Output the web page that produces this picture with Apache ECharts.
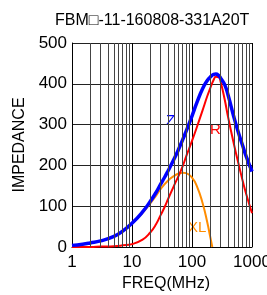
<!DOCTYPE html>
<html>
<head>
<meta charset="utf-8">
<script src="https://cdn.jsdelivr.net/npm/echarts@6/dist/echarts.min.js"></script>
<style>
  html, body { margin: 0; padding: 0; background: #fff; }
  #chart { width: 267px; height: 295px; }
</style>
</head>
<body>
<div id="chart"></div>
<script>
// impedance curves (MHz / ohm)
var freq = [1, 1.5, 2, 3, 5, 7, 10, 15, 20, 25, 30, 35, 40, 50, 60, 70, 80, 90, 100, 120, 150, 180, 200, 230, 250, 280, 300, 350, 400, 500, 600, 700, 800, 1000]
var zVals = [4, 7, 10, 15, 26, 39, 58, 86, 111, 133, 154, 171, 187, 215, 240, 263, 284, 303, 321, 353, 388, 408, 416, 423, 424, 420, 414, 398, 372, 318, 278, 248, 222, 185]
var rVals = [0, 0, 0, 1, 2, 4, 7, 18, 35, 55, 78, 98, 118, 150, 175, 198, 222, 242, 260, 293, 335, 370, 388, 410, 417, 416, 405, 362, 318, 252, 202, 162, 130, 83]
var xlFreq = [1, 1.5, 2, 3, 5, 7, 10, 15, 20, 25, 30, 40, 50, 60, 70, 80, 100, 120, 150, 180, 200, 218]
var xlVals = [4, 7, 10, 15, 26, 39, 58, 84, 106, 125, 142, 163, 174, 180, 182, 181, 170, 150, 108, 60, 27, 0]
var minorFreq = [2, 3, 4, 5, 6, 7, 8, 9, 20, 30, 40, 50, 60, 70, 80, 90, 200, 300, 400, 500, 600, 700, 800, 900]
var yTicks = [0, 100, 200, 300, 400, 500]

var FONT = 'Liberation Sans, Arial, sans-serif'

function pairs(xs, ys) {
  return xs.map(function (x, i) { return [x, ys[i]] })
}

var chart = echarts.init(document.getElementById('chart'))
chart.setOption({
  animation: false,
  title: {
    text: 'FBM\u25A1-11-160808-331A20T',
    left: 50,
    top: 8,
    textStyle: { fontFamily: FONT, fontSize: 16, fontWeight: 'normal', color: '#000' }
  },
  grid: { left: 72, right: 15, top: 43, bottom: 48, outerBoundsMode: 'none' },
  xAxis: {
    type: 'log',
    logBase: 10,
    min: 1,
    max: 1000,
    name: 'FREQ(MHz)',
    nameLocation: 'middle',
    nameGap: 27,
    nameTextStyle: { fontFamily: FONT, fontSize: 16, color: '#000', padding: [0, 0, 0, 8] },
    axisLine: { lineStyle: { color: '#000', width: 1 } },
    axisTick: { show: false },
    axisLabel: {
      fontFamily: FONT, fontSize: 17, color: '#000', margin: 7,
      formatter: function (v) { return String(v) }
    },
    splitLine: { show: true, lineStyle: { color: '#000', width: 1 } }
  },
  yAxis: {
    type: 'value',
    min: yTicks[0],
    max: yTicks[yTicks.length - 1],
    interval: 100,
    name: 'IMPEDANCE',
    nameLocation: 'middle',
    nameGap: 42,
    nameTextStyle: { fontFamily: FONT, fontSize: 16, color: '#000' },
    axisLine: { show: true, lineStyle: { color: '#000', width: 1 } },
    axisTick: { show: false },
    axisLabel: { fontFamily: FONT, fontSize: 17, color: '#000', margin: 5 },
    splitLine: { show: true, lineStyle: { color: '#222', width: 1 } }
  },
  graphic: [
    { type: 'text', left: 166, top: 113, style: { text: 'Z', fill: '#0000ff', font: '15px ' + FONT } },
    { type: 'text', left: 210, top: 122, style: { text: 'R', fill: '#ff0000', font: '15px ' + FONT } },
    { type: 'text', left: 188, top: 220, style: { text: 'XL', fill: '#ff8c00', font: '15px ' + FONT } }
  ],
  series: [
    {
      name: 'grid',
      type: 'line',
      data: [],
      silent: true,
      markLine: {
        silent: true,
        symbol: ['none', 'none'],
        label: { show: false },
        lineStyle: { color: '#444', width: 1, type: 'solid' },
        data: minorFreq.map(function (f) { return { xAxis: f } })
      }
    },
    {
      name: 'XL',
      type: 'line',
      smooth: 0.5,
      showSymbol: false,
      data: pairs(xlFreq, xlVals),
      lineStyle: { color: '#ff8c00', width: 2 }
    },
    {
      name: 'R',
      type: 'line',
      smooth: 0.5,
      showSymbol: false,
      data: pairs(freq, rVals),
      lineStyle: { color: '#ff0000', width: 2 }
    },
    {
      name: 'Z',
      type: 'line',
      smooth: 0.5,
      showSymbol: false,
      data: pairs(freq, zVals),
      lineStyle: { color: '#0000ff', width: 3.5 }
    }
  ]
})
</script>
</body>
</html>
